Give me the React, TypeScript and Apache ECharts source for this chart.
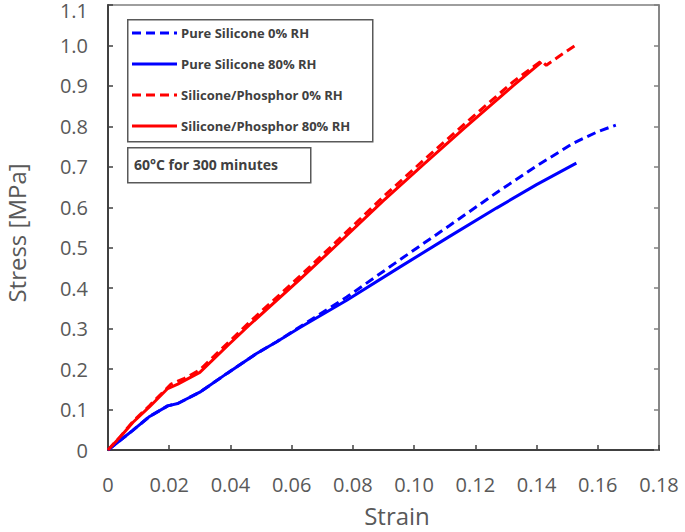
import React, { useEffect, useRef } from "react";
import * as echarts from "echarts";

const seriesNames = [
  "Pure Silicone 0% RH",
  "Pure Silicone 80% RH",
  "Silicone/Phosphor 0% RH",
  "Silicone/Phosphor 80% RH",
];

const pureSilicone0: [number, number][] = [
  [0, 0], [0.004, 0.024], [0.008, 0.048], [0.0136, 0.083], [0.0195, 0.109],
  [0.0228, 0.115], [0.03, 0.143], [0.039, 0.19], [0.0484, 0.238], [0.055, 0.267],
  [0.0626, 0.304], [0.078, 0.378], [0.0953, 0.47], [0.1116, 0.555], [0.1269, 0.636],
  [0.14, 0.702], [0.1519, 0.758], [0.16, 0.787], [0.1659, 0.803],
];

const pureSilicone80: [number, number][] = [
  [0, 0], [0.004, 0.024], [0.008, 0.048], [0.0136, 0.083], [0.0195, 0.109],
  [0.0228, 0.115], [0.03, 0.143], [0.039, 0.19], [0.0484, 0.238], [0.055, 0.267],
  [0.0626, 0.302], [0.078, 0.37], [0.0953, 0.452], [0.1116, 0.528], [0.1269, 0.598],
  [0.14, 0.656], [0.153, 0.709],
];

const phosphor0: [number, number][] = [
  [0, 0], [0.004, 0.033], [0.0081, 0.07], [0.0136, 0.11], [0.0206, 0.163],
  [0.025, 0.177], [0.03, 0.198], [0.0392, 0.265], [0.0462, 0.316], [0.0626, 0.429],
  [0.0753, 0.52], [0.0898, 0.625], [0.1029, 0.715], [0.1165, 0.806], [0.1323, 0.91],
  [0.1416, 0.962], [0.1432, 0.951], [0.1475, 0.974], [0.1525, 0.999],
];

const phosphor80: [number, number][] = [
  [0, 0], [0.004, 0.032], [0.0081, 0.068], [0.0136, 0.107], [0.0195, 0.152],
  [0.0228, 0.163], [0.03, 0.192], [0.0392, 0.259], [0.0462, 0.309], [0.0626, 0.421],
  [0.0753, 0.511], [0.0898, 0.615], [0.1029, 0.705], [0.1165, 0.796], [0.1323, 0.9],
  [0.1416, 0.959],
];

const xMin = 0, xMax = 0.18, xStep = 0.02;
const yMin = 0, yMax = 1.1, yStep = 0.1;
const xTitle = "Strain";
const yTitle = "Stress [MPa]";
const noteText = "60°C for 300 minutes";

const BLUE = "#0000FF";
const RED = "#FF0000";
const FONT = "'Open Sans', sans-serif";
const DASH = [9, 5];

export default function App() {
  const ref = useRef<HTMLDivElement>(null);
  useEffect(() => {
    if (!ref.current) return;
    const chart = echarts.init(ref.current, null, { renderer: "svg" });
    const defs = [
      { name: seriesNames[0], data: pureSilicone0, color: BLUE, dashed: true },
      { name: seriesNames[1], data: pureSilicone80, color: BLUE, dashed: false },
      { name: seriesNames[2], data: phosphor0, color: RED, dashed: true },
      { name: seriesNames[3], data: phosphor80, color: RED, dashed: false },
    ];
    const legendRows = [33, 64, 95, 126];
    const legendGraphics: any[] = [
      {
        type: "rect", left: 127, top: 19,
        shape: { width: 245, height: 122 },
        style: { fill: "#fff", stroke: "#595959", lineWidth: 1.5 },
        z: 10,
      },
    ];
    defs.forEach((d, i) => {
      legendGraphics.push({
        type: "line",
        shape: { x1: 132, y1: legendRows[i], x2: 177, y2: legendRows[i] },
        style: { stroke: d.color, lineWidth: 3, lineDash: d.dashed ? DASH : null },
        z: 11,
      });
      legendGraphics.push({
        type: "text", x: 181, y: legendRows[i],
        style: {
          text: d.name, fill: "#404040", fontSize: 13, fontWeight: "bold",
          fontFamily: FONT, verticalAlign: "middle", align: "left",
        },
        z: 11,
      });
    });
    chart.setOption({
      animation: false,
      textStyle: { fontFamily: FONT },
      grid: {
        left: 108, right: 26, top: 5, bottom: 82,
        show: true, borderColor: "#7f7f7f", borderWidth: 1.5, backgroundColor: "transparent",
      },
      xAxis: {
        type: "value", min: xMin, max: xMax, interval: xStep,
        axisLine: { show: true, lineStyle: { color: "#404040", width: 2 } },
        axisTick: { show: true, inside: true, length: 5, lineStyle: { color: "#404040", width: 1.5 } },
        axisLabel: {
          color: "#595959", fontSize: 20, fontFamily: FONT, margin: 24,
          formatter: (v: number) => (v === 0 ? "0" : v.toFixed(2)),
        },
        splitLine: { show: false },
      },
      yAxis: [
        {
          type: "value", min: yMin, max: yMax, interval: yStep,
          axisLine: { show: true, lineStyle: { color: "#404040", width: 2 } },
          axisTick: { show: true, inside: true, length: 5, lineStyle: { color: "#404040", width: 1.5 } },
          axisLabel: {
            color: "#595959", fontSize: 20, fontFamily: FONT, margin: 20,
            formatter: (v: number) =>
              v === 0 ? "0" : Math.abs(v - yMax) < 1e-9 ? `{top|${v.toFixed(1)}}` : v.toFixed(1),
            rich: {
              top: {
                color: "#595959", fontSize: 20, fontFamily: FONT,
                lineHeight: 30, verticalAlign: "bottom",
              },
            },
          },
          splitLine: { show: false },
        },
        {
          type: "value", min: yMin, max: yMax, interval: yStep, position: "right",
          axisLine: { show: true, lineStyle: { color: "#7f7f7f", width: 1.5 } },
          axisTick: { show: true, inside: true, length: 5, lineStyle: { color: "#7f7f7f", width: 1.5 } },
          axisLabel: { show: false },
          splitLine: { show: false },
        },
      ],
      series: defs.map((d) => ({
        name: d.name,
        type: "line",
        data: d.data,
        symbol: "none",
        showSymbol: false,
        smooth: false,
        color: d.color,
        lineStyle: { color: d.color, width: 3, type: d.dashed ? DASH : "solid", cap: "butt" },
        z: d.dashed ? 3 : 2,
      })),
      graphic: [
        ...legendGraphics,
        {
          type: "rect", left: 127, top: 147,
          shape: { width: 183, height: 35 },
          style: { fill: "#fff", stroke: "#595959", lineWidth: 1.5 },
          z: 10,
        },
        {
          type: "text", x: 134, y: 164,
          style: {
            text: noteText, fill: "#404040", fontSize: 14, fontWeight: "bold",
            fontFamily: FONT, verticalAlign: "middle", align: "left",
          },
          z: 11,
        },
        {
          type: "text", x: 397, y: 515,
          style: { text: xTitle, fill: "#595959", fontSize: 24, fontFamily: FONT, align: "center", verticalAlign: "middle" },
        },
        {
          type: "text", x: 16, y: 233, rotation: Math.PI / 2,
          style: { text: yTitle, fill: "#595959", fontSize: 24, fontFamily: FONT, align: "center", verticalAlign: "middle" },
        },
      ],
    });
    return () => chart.dispose();
  }, []);
  return (
    <div
      ref={ref}
      style={{ position: "fixed", left: 0, top: 0, width: 685, height: 532, background: "#fff" }}
    />
  );
}
